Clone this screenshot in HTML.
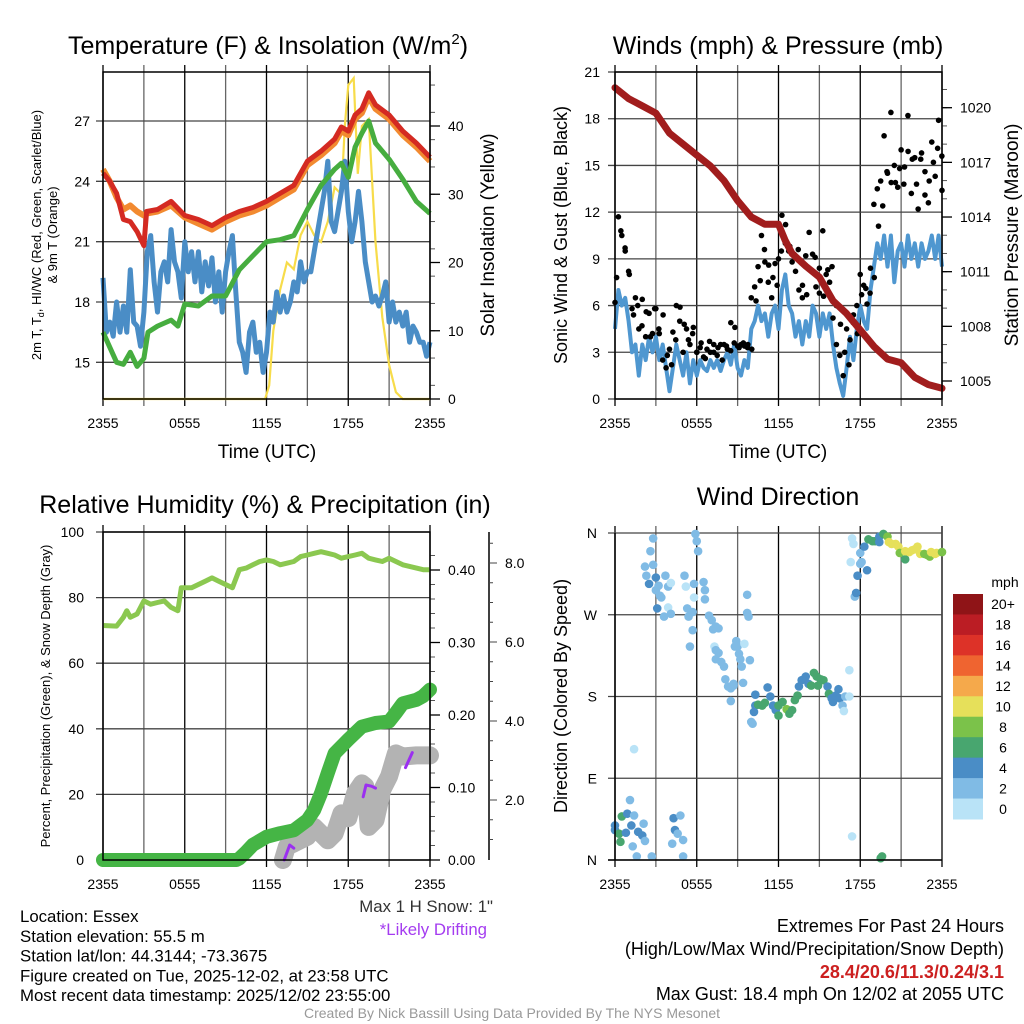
<!DOCTYPE html>
<html><head><meta charset="utf-8">
<style>
html,body{margin:0;padding:0;background:#fff;}
body{width:1024px;height:1024px;overflow:hidden;position:relative;font-family:"Liberation Sans",sans-serif;}
svg{position:absolute;left:0;top:0;}
.t{font-family:"Liberation Sans",sans-serif;fill:#000;}
.n{font-family:"Liberation Sans",sans-serif;}
</style></head>
<body>
<svg id="s" width="1024" height="1024" viewBox="0 0 1024 1024">
<g id="g"></g>
</svg>
<script>
// ---------- DATA ----------
const xTicks = ["2355","0555","1155","1755","2355"];
const tempHours = [0,0.5,1,1.5,2,2.5,3,3.2,4,5,6,7,8,9,10,11,12,13,14,15,16,17,17.5,18,18.5,19,19.5,20,21,22,23,24];
const tempRed   = [24.4,24.0,23.4,22.1,22.0,21.5,20.8,22.5,22.6,23.0,22.3,22.1,21.8,22.2,22.5,22.7,23.0,23.4,23.8,25.0,25.5,26.1,26.7,26.5,27.3,27.6,28.4,27.8,27.3,26.5,25.9,25.2];
const tempOrange= [24.6,24.0,23.2,22.6,22.8,22.5,22.3,22.4,22.5,22.8,22.2,21.9,21.6,22.0,22.3,22.5,22.8,23.2,23.6,24.8,25.3,25.9,26.5,26.3,27.1,27.4,28.2,27.6,27.1,26.3,25.7,25.0];
const dewHours  = [0,1,1.5,2,2.5,3,3.3,4,5,5.5,6,7,8,9,10,11,12,13,14,15,16,17,17.5,18,18.5,19,19.5,20,21,22,23,24];
const dewGreen  = [16.5,15.0,14.9,15.5,14.8,15.2,16.5,16.8,17.1,16.8,17.9,17.8,18.3,18.3,19.6,20.3,21.0,21.1,21.3,22.6,23.8,24.6,24.9,24.2,25.7,26.4,27.0,25.9,25.1,24.1,23.0,22.4];
const chillBlue = [19.2,16.5,17.0,16.3,18.0,16.5,17.8,16.5,19.6,17.0,16.8,15.8,17.5,20.5,21.3,19.0,17.5,19.5,20.0,19.0,21.6,20.0,19.5,18.2,21.0,19.5,20.5,19.0,20.5,18.5,20.0,18.8,20.2,18.0,19.5,17.5,19.5,20.5,21.3,18.5,16.0,15.5,14.5,16.5,17.0,15.5,16.0,14.5,15.5,17.5,17.0,18.5,17.5,18.3,17.5,18.0,19.0,18.5,20.0,19.0,19.5,19.5,20.5,21.5,22.5,23.5,25.0,22.0,21.5,22.5,23.5,25.0,22.5,21.0,22.0,23.5,22.0,20.0,19.0,18.0,18.3,17.8,18.3,19.0,17.0,18.0,17.0,17.5,16.8,17.5,16.0,16.8,16.5,16.0,16.0,15.3,16.0];
const solarHours= [0,11.9,12.2,12.5,13,13.5,14,14.5,15,15.5,16,16.5,17,17.5,17.75,18,18.4,18.7,19,19.5,20,20.5,21,21.5,22,24];
const solarVals = [0,0,2,10,16,20,19,24,26,24,23,26,31,30,40,46,47,33,40,41,23,12,5,1,0,0];
const windBlue  = [4.5,7,6,6.5,5,3,3.5,1.5,3.5,2.5,4,3,4,2.5,3.5,2,0.5,2,3.5,2.5,1.5,3,1,2.5,1.5,2.5,2,1.8,2.5,2,2.5,1.8,2.5,3,2.2,3.5,2,1.5,2.5,2,4.5,5,6,5,5.5,4,5.5,6,4.5,7,8,6,5.5,4,5,3.5,5,4,6,5.5,4,5.5,4.5,5.5,3.5,2,1,0.2,2,4,2.5,4.5,6,5,4.5,7,8.5,10,9,10.5,8.5,10.5,7.5,9.5,10,8.5,10.5,9,10,8.5,10,9,9.5,10.5,9,10.5,8.5];
const gustBlack = [6.2,11.7,10.5,9.5,8.2,5.8,6.5,4.5,6.4,4,5.5,4.2,5.8,4.2,2.5,2,3.2,4.3,6,5,3,4.5,3.5,4.6,3,3.3,2.7,3.2,3,3.5,2.8,3.5,3.5,3.2,4.9,3.6,3.4,3.5,3.4,3.5,6.5,7.2,8.5,10.5,8.8,7.5,6.5,8.7,9,11.8,10,9.5,8.8,8.2,7,6.5,9.2,10.7,9.3,7.2,8.4,10.8,8,7.5,5.2,3.5,2.8,1.5,4.5,3.8,5.4,6,8,7.3,6.1,8.4,12.5,13.5,14,16.9,14.5,18.4,15,13.6,16,14.9,18.2,13.2,15.5,12.2,15.8,14.6,12.6,16.5,14.3,17.9,13.4];
const gustBlackB= [7.8,10.8,9.7,8,5.4,6,4.7,5.6,4,5.8,4.5,5.4,2.8,2.2,3.8,5.9,4.8,3.8,4.2,3,3.6,2.6,3.7,3,3.3,2.5,3.4,3.1,4.6,3.3,3.6,3.3,3.2,6.3,7.6,9.6,8.6,7.8,7.3,9.5,11.2,9.8,9.3,9.6,7.3,6.7,8.3,9.1,6.8,6.6,8.3,8.5,6,4.8,3,2.2,4.9,4.2,6.7,7.1,6.8,7.8,11.1,12.4,14.6,13.9,13.9,14.8,13.8,15.9,15.4,13.8,15.4,13.1,14,15.2,16.1,15.6];
const pressHours= [0,1,2,3,4,5,6,7,8,9,10,11,12,12.5,13,14,15,16,17,18,19,20,21,22,23,24];
const pressVals = [1021.1,1020.5,1020.1,1019.7,1018.6,1018.0,1017.4,1016.8,1016.0,1014.9,1014.0,1013.6,1013.6,1012.7,1012.0,1011.3,1010.7,1009.4,1008.7,1007.8,1006.9,1006.2,1006.0,1005.2,1004.8,1004.6];
const rhHours   = [0,1,1.5,1.75,2,2.5,3,3.5,4,4.5,5,5.5,5.75,6,6.5,7,7.5,8,8.5,9,9.5,10,10.5,11,11.5,12,12.5,13,13.5,14,14.5,15,15.5,16,16.5,17,17.5,18,18.5,19,19.5,20,20.5,21,21.5,22,22.5,23,23.5,24];
const rhVals    = [71.5,71.3,74,76,74,75,79,78,78.5,79,77,76,83,83,83,84,85,86,85,84,83,88.5,89,90,91,91.5,91,90,90.5,91,92.5,93,93.5,94,93.5,93,92,92.5,93,93.5,92,91.5,91,92,91,90,89.5,89,88.5,88.5];
const precipHours=[0,9.8,10,10.5,11,12,13,14,15,15.5,16,16.5,17,18,19,20,21,21.5,22,23,23.5,24];
const precipVals= [0,0,0.002,0.011,0.021,0.032,0.037,0.041,0.055,0.069,0.092,0.12,0.147,0.166,0.184,0.189,0.191,0.203,0.216,0.221,0.226,0.235];
const snowHours = [13.2,13.5,14,15,15.5,16,16.5,17,17.5,18,18.5,19,19.25,19.5,20,20.5,21,21.5,22,23,24];
const snowVals  = [0.48,0.82,0.9,1.07,1.32,1.15,0.98,1.15,1.66,1.54,2.17,2.42,2.35,1.32,1.49,2.26,2.6,3.18,3.1,3.13,3.13];
const driftHours= [[13.3,13.7,14.0],[17.7],[19.1,19.3,19.7,20.0],[22.2,22.7]];
const driftVals = [[0.48,0.86,0.78],[1.67],[2.08,2.38,2.35,2.3],[2.82,3.2]];
const dirHours = [0,0,0.3,0.4,0.5,0.9,0.8,1.1,1.2,1.3,1.4,1.6,1.7,2.0,2.1,2.2,1.4,2.7,4.3,4.8,4.2,4.4,4.6,5.0,5.0,
 2.8,2.6,2.8,2.2,2.3,2.5,3.0,3.0,3.2,3.3,3.4,3.1,3.6,3.7,3.9,3.9,4.1,4.1,5.1,5.2,5.3,5.4,5.5,5.7,5.7,5.8,5.8,5.9,6.0,6.1,6.5,6.6,6.6,6.9,7.1,7.2,7.4,7.6,7.3,7.4,7.6,7.4,7.8,8.0,8.1,8.3,8.5,8.5,8.7,8.7,8.8,8.9,9.0,9.1,9.2,9.3,9.4,9.5,9.7,9.7,9.8,9.9,
 10.0,10.1,10.2,10.3,10.3,10.5,10.8,11.0,11.2,11.4,11.6,11.8,12.0,12.0,12.3,12.6,12.8,13.0,13.2,13.4,13.5,13.7,14.0,14.2,14.4,14.6,14.8,14.9,15.1,15.3,15.6,15.7,15.9,16.0,16.2,16.4,16.5,16.7,16.8,16.9,17.2,17.2,17.4,
 17.4,17.5,17.3,17.6,17.7,17.8,18.0,18.1,18.0,18.3,18.5,18.6,18.9,19.1,19.4,19.4,19.7,20.0,20.1,20.3,20.6,20.8,20.9,21.3,21.3,21.6,21.8,22.0,22.2,22.4,22.7,22.9,23.1,23.2,23.5,23.6,24.0,19.5,19.6];
const dirDeg = [33,38,29,20,48,51,30,66,38,15,49,4,31,27,40,21,122,4,46,49,18,33,29,22,4,
 354,340,325,323,313,304,311,297,302,291,289,277,268,313,278,301,305,271,313,301,277,268,235,253,273,289,304,359,351,340,306,297,287,269,264,254,257,255,235,231,228,221,218,213,199,191,189,175,194,192,235,241,235,227,221,213,195,238,292,272,268,220,
 152,150,163,170,182,171,170,173,190,180,170,165,159,170,174,166,161,165,176,181,191,198,202,194,192,206,202,192,199,198,191,183,178,174,181,188,178,170,164,180,180,209,26,
 354,348,328,290,294,313,326,328,338,345,319,353,351,351,350,356,359,356,350,348,348,345,338,331,340,339,341,342,345,337,337,336,334,339,337,338,339,2,4];
const dirSpeed = [5,5,7,7,7,5,5,3,5,3,3,3,5,5,3,3,1,3,5,3,3,5,3,3,3,
 3,3,3,3,3,5,5,3,3,3,3,5,3,3,1,3,1,3,3,1,3,3,3,3,3,1,3,3,3,3,3,3,3,3,3,3,3,3,1,3,3,3,3,3,3,3,3,3,3,3,3,3,3,3,3,3,3,1,3,3,3,3,
 3,3,5,5,5,7,7,7,5,5,5,5,7,7,7,9,7,7,7,7,5,5,5,5,7,7,7,7,7,7,5,7,5,5,5,5,5,3,1,3,1,1,1,
 1,1,1,3,5,5,3,3,3,5,5,7,7,7,5,5,7,9,11,11,11,11,9,7,11,11,11,11,11,11,9,9,9,11,11,11,9,7,7];
const cbLabels = ["20+","18","16","14","12","10","8","6","4","2","0"];
const cbColors = ["#8f1417","#bb1d24","#dd3228","#ef6430","#f5a94b","#e6e05a","#7bc24a","#48a66f","#4a8dc6","#80bbe5","#b9e3f7"];

// ---------- helpers ----------
const NS="http://www.w3.org/2000/svg";
const G=document.getElementById('g');
function mk(tag,attrs,parent){const e=document.createElementNS(NS,tag);for(const k in attrs)e.setAttribute(k,attrs[k]);(parent||G).appendChild(e);return e;}
function lin(d0,d1,r0,r1){return v=>r0+(v-d0)*(r1-r0)/(d1-d0);}
function txt(x,y,s,size,anchor,parent,extra){const e=mk('text',Object.assign({x:x,y:y,'font-size':size,'text-anchor':anchor||'middle',class:'t'},extra||{}),parent);e.textContent=s;return e;}
function path(xs,ys,fx,fy){return xs.map((h,i)=>(i?'L':'M')+fx(h).toFixed(1)+','+fy(ys[i]).toFixed(1)).join('');}
function frame(p,X0,X1,Y0,Y1){
  for(let h=0;h<=24;h+=3){const x=p.fx(h);
    const l=mk('line',{x1:x,y1:Y0-7,x2:x,y2:Y1+7,stroke:(h%6==0)?'#000':'#666','stroke-width':1.3},p.g);
    
    }
  for(let i=0;i<xTicks.length;i++){const t=txt(p.fx(i*6),Y1+29,xTicks[i],14,'middle',p.g);
    
    }
}
function hgrid(p,vals,fy,X0,X1,labels,lx){vals.forEach((v,i)=>{const y=fy(v);
  const l=mk('line',{x1:X0-7,y1:y,x2:X1,y2:y,stroke:'#444','stroke-width':1.3},p.g);
  
  
  const t=txt(lx,y+5,labels[i],14,'end',p.g);
  
  });}
function rticks(p,x,vals,fy,labels,len,lx,minor){
  minor.forEach(v=>mk('line',{x1:x,y1:fy(v),x2:x+len/2,y2:fy(v),stroke:'#555','stroke-width':1},p.g));
  vals.forEach((v,i)=>{mk('line',{x1:x,y1:fy(v),x2:x+len,y2:fy(v),stroke:'#000','stroke-width':1.3},p.g);
    const t=txt(lx,fy(v)+5,labels[i],14,'start',p.g);
    
    });}
function panel(name){const g=mk('g',{});return g;}

// ---------- Panel 1 ----------
(function(){
 const X0=103,X1=430,Y0=72,Y1=399;
 const p={g:panel('temperature-panel'),fx:lin(0,24,X0,X1)};
 const fy=lin(27,18,121,302), fs=lin(0,40,399,126);
 frame(p,X0,X1,Y0,Y1);
 hgrid(p,[27,24,21,18,15],fy,X0,X1,["27","24","21","18","15"],90);
 const minor=[];for(let v=2;v<=48;v+=4)minor.push(v);
 rticks(p,X1,[0,10,20,30,40],fs,["0","10","20","30","40"],10,448,minor);
 const sl=mk('path',{d:path(solarHours,solarVals,p.fx,fs),fill:'none',stroke:'#f7dc4a','stroke-width':2.2},p.g);
  
 const ch=chillBlue.map((v,i)=>i*0.25);
 const b=mk('path',{d:path(ch,chillBlue,p.fx,fy),fill:'none',stroke:'#4a8dc6','stroke-width':5,'stroke-linejoin':'round'},p.g);
  
 const gr=mk('path',{d:path(dewHours,dewGreen,p.fx,fy),fill:'none',stroke:'#46ad3f','stroke-width':5,'stroke-linejoin':'round'},p.g);
  
 const o=mk('path',{d:path(tempHours,tempOrange,p.fx,fy),fill:'none',stroke:'#f28a30','stroke-width':6,'stroke-linejoin':'round'},p.g);
  
 const r=mk('path',{d:path(tempHours,tempRed,p.fx,fy),fill:'none',stroke:'#d42a22','stroke-width':5,'stroke-linejoin':'round'},p.g);
  
 mk('rect',{x:X0,y:Y0,width:X1-X0,height:Y1-Y0,fill:'none',stroke:'#000','stroke-width':1.5},p.g);
 const t=txt(268,54,'',25,'middle',p.g);t.innerHTML='Temperature (F) &amp; Insolation (W/m<tspan dy="-10" font-size="15">2</tspan><tspan dy="10">)</tspan>';
  
 const xt=txt(267,458,'Time (UTC)',19,'middle',p.g);
  
 const yt=mk('text',{x:0,y:0,'font-size':13,'text-anchor':'middle',class:'t',transform:'translate(41,235) rotate(-90)'},p.g);
 yt.innerHTML='2m T, T<tspan dy="3" font-size="9">d</tspan><tspan dy="-3">, HI/WC (Red, Green, Scarlet/Blue)</tspan>';
  
 const yt2=mk('text',{x:0,y:0,'font-size':13,'text-anchor':'middle',class:'t',transform:'translate(57,235) rotate(-90)'},p.g);yt2.textContent='& 9m T (Orange)';
 const rt=mk('text',{x:0,y:0,'font-size':19,'text-anchor':'middle',class:'t',transform:'translate(494,235) rotate(-90)'},p.g);rt.textContent='Solar Insolation (Yellow)';
  
})();

// ---------- Panel 2 ----------
(function(){
 const X0=615,X1=942,Y0=72,Y1=399;
 const p={g:panel('winds-panel'),fx:lin(0,24,X0,X1)};
 const fy=lin(0,21,399,72), fp=lin(1005,1020,381,107.7);
 frame(p,X0,X1,Y0,Y1);
 hgrid(p,[0,3,6,9,12,15,18,21],fy,X0,X1,["0","3","6","9","12","15","18","21"],600);
 const minor=[];for(let v=1005;v<=1021;v++)minor.push(v);
 rticks(p,X1,[1005,1008,1011,1014,1017,1020],fp,["1005","1008","1011","1014","1017","1020"],10,960,minor);
 const wh=windBlue.map((v,i)=>i*0.25);
 const b=mk('path',{d:path(wh,windBlue,p.fx,fy),fill:'none',stroke:'#4f97d0','stroke-width':4,'stroke-linejoin':'round'},p.g);
  
 gustBlack.forEach((v,i)=>{const c=mk('circle',{cx:p.fx(i*0.25),cy:fy(v),r:2.8,fill:'#000'},p.g);
    });
 gustBlackB.forEach((v,i)=>{const c=mk('circle',{cx:p.fx(0.12+i*0.31),cy:fy(v),r:2.8,fill:'#000'},p.g);
    });
 const pr=mk('path',{d:path(pressHours,pressVals,p.fx,fp),fill:'none',stroke:'#a11d1d','stroke-width':7,'stroke-linejoin':'round','stroke-linecap':'round'},p.g);
  
 mk('rect',{x:X0,y:Y0,width:X1-X0,height:Y1-Y0,fill:'none',stroke:'#000','stroke-width':1.5},p.g);
 const t=txt(778,54,'Winds (mph) & Pressure (mb)',25,'middle',p.g);
  
 const xt=txt(778,458,'Time (UTC)',19,'middle',p.g);
  
 const yt=mk('text',{x:0,y:0,'font-size':18,'text-anchor':'middle',class:'t',transform:'translate(567,235) rotate(-90)'},p.g);yt.textContent='Sonic Wind & Gust (Blue, Black)';
  
 const rt=mk('text',{x:0,y:0,'font-size':19,'text-anchor':'middle',class:'t',transform:'translate(1018,235) rotate(-90)'},p.g);rt.textContent='Station Pressure (Maroon)';
  
})();

// ---------- Panel 3 ----------
(function(){
 const X0=103,X1=430,Y0=532,Y1=860;
 const p={g:panel('humidity-precip-panel'),fx:lin(0,24,X0,X1)};
 const fy=lin(0,100,860,532), fpr=lin(0,0.4,860,570), fsn=lin(0,8,879,563);
 frame(p,X0,X1,Y0,Y1);
 hgrid(p,[0,20,40,60,80,100],fy,X0,X1,["0","20","40","60","80","100"],84);
 const minor=[];for(let v=0.02;v<0.44;v+=0.02)minor.push(v);
 rticks(p,X1,[0,0.1,0.2,0.3,0.4],fpr,["0.00","0.10","0.20","0.30","0.40"],10,448,minor);
 const ax=mk('line',{x1:489,y1:532,x2:489,y2:860,stroke:'#000','stroke-width':1.5},p.g);
  
 for(let v=1;v<=8.5;v+=0.5){const y=fsn(v);mk('line',{x1:489,y1:y,x2:(v%2==0)?497:493,y2:y,stroke:'#444','stroke-width':1},p.g);}
 [2,4,6,8].forEach(v=>{const t=txt(505,fsn(v)+5,v.toFixed(1),14,'start',p.g);
    });
 const rh=mk('path',{d:path(rhHours,rhVals,p.fx,fy),fill:'none',stroke:'#8bc850','stroke-width':5,'stroke-linejoin':'round'},p.g);
  
 const sn=mk('path',{d:path(snowHours,snowVals,p.fx,fsn),fill:'none',stroke:'#b3b3b3','stroke-width':18,'stroke-linejoin':'round','stroke-linecap':'round'},p.g);
  
 const pc=mk('path',{d:path(precipHours,precipVals,p.fx,fpr),fill:'none',stroke:'#45b545','stroke-width':14,'stroke-linejoin':'round','stroke-linecap':'round'},p.g);
  
 driftHours.forEach((hs,i)=>{const d=mk('path',{d:path(hs,driftVals[i],p.fx,fsn),fill:'none',stroke:'#9b30f0','stroke-width':3,'stroke-linecap':'round','stroke-linejoin':'round'},p.g);
    });
 mk('rect',{x:X0,y:Y0,width:X1-X0,height:Y1-Y0,fill:'none',stroke:'#000','stroke-width':1.5},p.g);
 const t=txt(265,513,'Relative Humidity (%) & Precipitation (in)',25,'middle',p.g);
  
 const yt=mk('text',{x:0,y:0,'font-size':13,'text-anchor':'middle',class:'t',transform:'translate(50,696) rotate(-90)'},p.g);yt.textContent='Percent, Precipitation (Green), & Snow Depth (Gray)';
  
})();

// ---------- Panel 4 ----------
(function(){
 const X0=615,X1=942,Y0=533,Y1=860;
 const p={g:panel('wind-direction-panel'),fx:lin(0,24,X0,X1)};
 const fy=lin(0,360,860,533);
 frame(p,X0,X1,Y0,Y1);
 hgrid(p,[0,90,180,270,360],fy,X0,X1,["N","E","S","W","N"],597);
 function col(s){const k=Math.min(10,Math.floor(s/2));return cbColors[10-k];}
 dirHours.forEach((h,i)=>{const c=mk('circle',{cx:p.fx(h),cy:fy(dirDeg[i]),r:4.3,fill:col(dirSpeed[i])},p.g);
    });
 mk('line',{x1:X0,y1:Y0,x2:X0,y2:Y1,stroke:'#000','stroke-width':1.5},p.g);
 mk('line',{x1:X0-7,y1:Y1,x2:X1,y2:Y1,stroke:'#000','stroke-width':1.5},p.g);
 const t=txt(778,505,'Wind Direction',25,'middle',p.g);
  
 const yt=mk('text',{x:0,y:0,'font-size':18,'text-anchor':'middle',class:'t',transform:'translate(567,696) rotate(-90)'},p.g);yt.textContent='Direction (Colored By Speed)';
  
 const cb=mk('g',{},p.g);
  
 const bh=(819-594)/cbColors.length;
 cbColors.forEach((c,i)=>{mk('rect',{x:953,y:594+i*bh,width:30,height:bh+0.5,fill:c},cb);
   const l=txt(1003,594+i*bh+bh/2+5,cbLabels[i],14,'middle',cb);
    });
 txt(1005,587,'mph',14,'middle',cb);
})();

// ---------- footer ----------
(function(){
 const f=panel('footer-info');
 const left=["Location: Essex","Station elevation: 55.5 m","Station lat/lon: 44.3144; -73.3675","Figure created on Tue, 2025-12-02, at 23:58 UTC","Most recent data timestamp: 2025/12/02 23:55:00"];
 left.forEach((s,i)=>{const t=txt(20,922+i*19.8,s,16.8,'start',f,{class:'t n'});
    });
 const a=txt(493,912,'Max 1 H Snow: 1"',16.8,'end',f,{class:'t n',style:'fill:#333'});
  
 const b=txt(487,935,'*Likely Drifting',16.8,'end',f,{class:'t n',style:'fill:#a43cf0'});
  
 const r=[["Extremes For Past 24 Hours",932,'#000',''],["(High/Low/Max Wind/Precipitation/Snow Depth)",955,'#000',''],["28.4/20.6/11.3/0.24/3.1",978,'#cc1f1f','bold'],["Max Gust: 18.4 mph On 12/02 at 2055 UTC",1000,'#000','']];
 r.forEach(q=>{const t=txt(1004,q[1],q[0],18,'end',f,{class:'t n',style:'fill:'+q[2]+';font-weight:'+(q[3]||'normal')});
    });
 const c=txt(512,1018,'Created By Nick Bassill Using Data Provided By The NYS Mesonet',14,'middle',f,{class:'t n',style:'fill:#999'});
  
})();
</script>
</body></html>
